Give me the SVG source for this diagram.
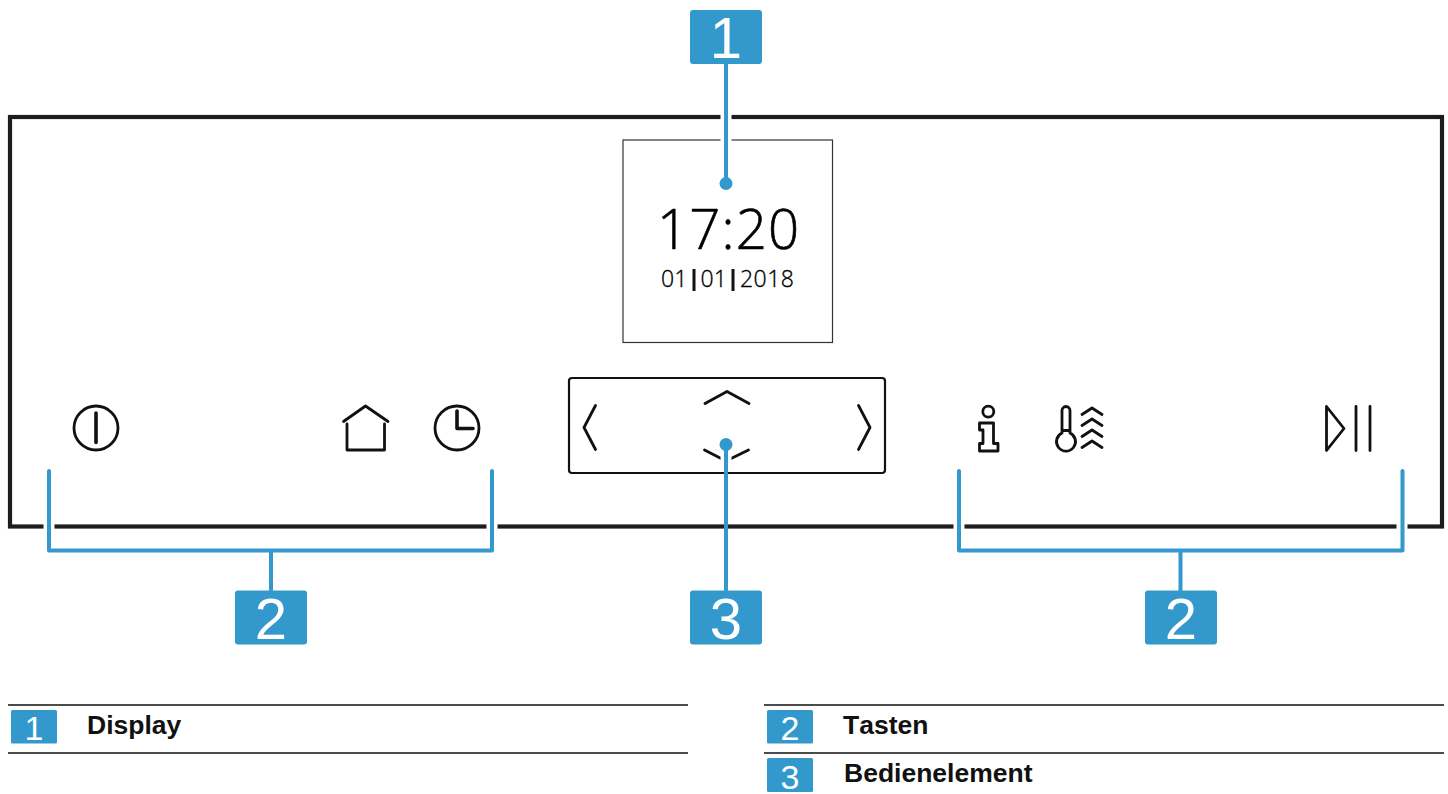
<svg xmlns="http://www.w3.org/2000/svg" width="1448" height="794" viewBox="0 0 1448 794">
<style>
.ic{fill:none;stroke:#111;stroke-width:2.800;stroke-linecap:round;stroke-linejoin:round}
.hv{stroke-width:3.600}
.ld{fill:none;stroke:#3399cc;stroke-width:4;stroke-linejoin:round;stroke-linecap:round}
.halo{fill:none;stroke:#fff;stroke-width:11}
.box{fill:#3399cc}
.num{font-family:"Liberation Sans",Arial,sans-serif;fill:#fff;text-anchor:middle}
.big{font-size:58px}
.sm{font-size:34px}
.lbl{font-family:"Liberation Sans",Arial,sans-serif;font-weight:700;font-size:26.500px;fill:#111;font-kerning:none}
.rule{stroke:#111;stroke-width:1.500}
.disp{font-family:"Open Sans","Noto Sans",sans-serif;font-weight:300;fill:#000;stroke:#000;stroke-width:.6}
.dsm{stroke-width:.35}
</style>
<g id="frame"><rect x="10" y="117" width="1432" height="409.500" fill="none" stroke="#1d1d1b" stroke-width="4.200"/></g>
<g id="display">
<rect x="623" y="140" width="209.500" height="202.500" fill="#fff" stroke="#333" stroke-width="1.200"/>
<text class="disp" x="657" y="248.500" font-size="54.500" textLength="142">17:20</text>
<text class="disp dsm" x="661" y="287" font-size="23">01</text>
<rect x="692.500" y="269" width="3" height="22" fill="#111"/>
<text class="disp dsm" x="700.500" y="287" font-size="23">01</text>
<rect x="731.500" y="269" width="3" height="22" fill="#111"/>
<text class="disp dsm" x="740" y="287" font-size="23" textLength="54">2018</text>
</g>
<g id="control">
<rect x="569" y="378" width="316" height="95" rx="3" fill="#fff" stroke="#111" stroke-width="2.200"/>
<path class="ic" d="M595.500 405.500 L584 427.500 L595.500 449.500"/>
<path class="ic" d="M858.500 405.500 L870 427.500 L858.500 449.500"/>
<path class="ic" d="M705 403.500 L727 391.500 L749 403.500"/>
<path class="ic" d="M704.500 450 L726 461 L748.500 450"/>
</g>
<g id="key-power"><circle class="ic" cx="96" cy="428" r="22"/><path class="ic hv" d="M96 413V442.500"/></g>
<g id="key-home"><path class="ic" d="M343.500 421.500 L365.500 406 L388 421.500M347 424V450H384.500V424"/></g>
<g id="key-clock"><circle class="ic" cx="457" cy="428" r="22"/><path class="ic hv" d="M457 411V428.500H473"/></g>
<g id="key-info"><circle class="ic" cx="988.300" cy="411.700" r="5.500"/><path class="ic" d="M979.500 423H993.500V443.500H998V451H979.500V443.500H983V430H979.500Z"/></g>
<g id="key-temp"><path class="ic" d="M1062 433V410.500A4 4 0 0 1 1070 410.500V433A9.500 9.500 0 1 1 1062 433ZM1062 430.500H1070"/><path class="ic" d="M1082 414.500L1092 408L1102 414.500M1082 425.500L1092 419L1102 425.500M1082 436.500L1092 430L1102 436.500M1082 447.500L1092 441L1102 447.500"/></g>
<g id="key-play"><path class="ic" d="M1326.500 406.500L1344 428.500L1326.500 450.500ZM1356 406.500V450.500M1370 406.500V450.500"/></g>
<g id="connectors">
<path class="halo" d="M726 112V143M49 520V532M492 520V532M959 520V532M1402 520V532"/>
<path class="ld" d="M726 64V183"/><circle cx="726" cy="183.500" r="6.500" fill="#3399cc"/>
<path class="halo" d="M726 452V470" stroke-width="9"/>
<path class="ld" d="M726 444V590"/><circle cx="726" cy="444.500" r="6.500" fill="#3399cc"/>
<path class="ld" d="M49 471V550.500H492V471M271 550.500V590"/>
<path class="ld" d="M959 471V550.500H1402.500V471M1180.500 550.500V590"/>
</g>
<g id="badge-1"><rect class="box" x="690" y="10" width="72" height="54" rx="3"/><text class="num big" x="726" y="58">1</text></g>
<g id="badge-2a"><rect class="box" x="235" y="590.500" width="72" height="54" rx="3"/><text class="num big" x="271" y="638.500">2</text></g>
<g id="badge-3"><rect class="box" x="690" y="590.500" width="72" height="54" rx="3"/><text class="num big" x="726" y="638.500">3</text></g>
<g id="badge-2b"><rect class="box" x="1145" y="590.500" width="72" height="54" rx="3"/><text class="num big" x="1181" y="638.500">2</text></g>
<g id="legend">
<path class="rule" d="M8 705H688M8 753H688M764 705H1444M764 753H1444"/>
<rect class="box" x="11" y="710" width="46" height="33.500" rx="1.500"/><text class="num sm" x="34" y="740">1</text>
<text class="lbl" x="87" y="733.500">Display</text>
<rect class="box" x="767" y="710" width="46" height="33.500" rx="1.500"/><text class="num sm" x="790" y="740">2</text>
<text class="lbl" x="843" y="733.500">Tasten</text>
<rect class="box" x="767" y="758" width="46" height="34" rx="1.500"/><text class="num sm" x="790" y="788.500">3</text>
<text class="lbl" x="844" y="782">Bedienelement</text>
</g>
</svg>
